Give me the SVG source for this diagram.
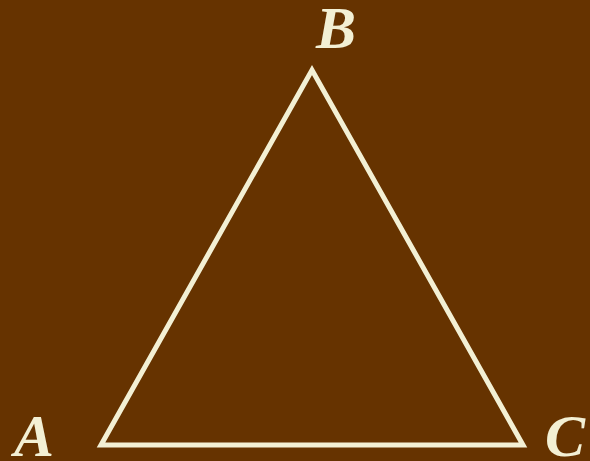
<svg xmlns="http://www.w3.org/2000/svg" width="590" height="461" viewBox="0 0 590 461">
<style>
.lbl{font-family:"Liberation Serif","Times New Roman",serif;font-weight:bold;font-style:italic;font-size:60px;fill:#F3F0D4}
.tri{fill:none;stroke:#F3F0D4;stroke-width:5;stroke-linejoin:miter}
</style>
<rect width="590" height="461" fill="#663300"/>
<g id="triangle"><polygon class="tri" points="101,445 312,70 523,445"/></g>
<g id="labels">
<text id="B" class="lbl" x="316" y="48">B</text>
<text id="A" class="lbl" x="14" y="456">A</text>
<text id="C" class="lbl" x="545" y="456">C</text>
</g>
</svg>
